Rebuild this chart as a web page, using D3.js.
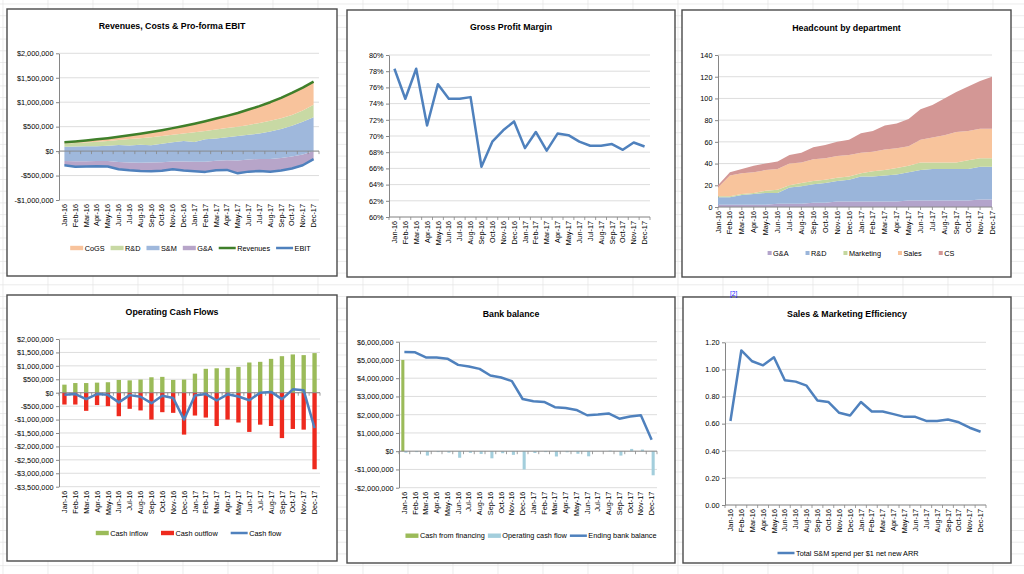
<!DOCTYPE html>
<html>
<head>
<meta charset="utf-8">
<script src="https://cdnjs.cloudflare.com/ajax/libs/d3/7.8.5/d3.min.js"></script>
<style>
  body { margin: 0; background: #fff; }
  svg { display: block; font-family: "Liberation Sans", Arial, sans-serif; }
</style>
</head>
<body>
<svg width="1024" height="574"></svg>
<script>
// ---- data ----
const months = ["Jan-16","Feb-16","Mar-16","Apr-16","May-16","Jun-16","Jul-16","Aug-16","Sep-16","Oct-16","Nov-16","Dec-16",
                "Jan-17","Feb-17","Mar-17","Apr-17","May-17","Jun-17","Jul-17","Aug-17","Sep-17","Oct-17","Nov-17","Dec-17"];

// Revenues, Costs & Pro-forma EBIT
const revenues = [180000,198000,218000,240000,264000,292000,322000,355000,390000,428000,470000,515000,560000,610000,665000,720000,780000,850000,920000,1000000,1090000,1190000,1300000,1420000];
const ebit = [-290000,-320000,-315000,-310000,-315000,-370000,-390000,-405000,-410000,-400000,-370000,-395000,-410000,-425000,-390000,-385000,-455000,-420000,-405000,-420000,-395000,-355000,-290000,-165000];
const gnaCost = [90000,110000,110000,110000,115000,145000,155000,165000,175000,170000,155000,180000,190000,205000,195000,200000,265000,250000,245000,260000,255000,245000,220000,165000];
const snmCost = [290000,305000,305000,300000,310000,350000,350000,370000,355000,380000,395000,420000,405000,460000,455000,470000,500000,505000,520000,560000,590000,630000,670000,690000];
const rndCost = [65000,70000,75000,90000,95000,100000,130000,135000,165000,160000,155000,155000,200000,170000,180000,185000,190000,200000,215000,220000,220000,220000,230000,260000];
const cogsCost = [25000,33000,43000,50000,59000,67000,77000,90000,105000,118000,135000,155000,175000,200000,225000,250000,280000,315000,345000,380000,420000,450000,470000,470000];
const pnlTicks = [-1000000,-500000,0,500000,1000000,1500000,2000000];

// Gross Profit Margin
const grossMargin = [0.783,0.746,0.783,0.713,0.764,0.746,0.746,0.748,0.662,0.693,0.707,0.718,0.685,0.705,0.682,0.703,0.701,0.693,0.688,0.688,0.690,0.683,0.692,0.687];
const marginTicks = [0.60,0.62,0.64,0.66,0.68,0.70,0.72,0.74,0.76,0.78,0.80];

// Headcount by department
const hcGnA = [2,2,2,2,2,3,3,3,4,4,5,5,5,5,5,5,6,6,6,6,6,6,7,7];
const hcRnD = [7,7,9,10,11,10,15,16,17,18,19,20,23,23,24,25,26,28,29,29,29,29,30,30];
const hcMarketing = [1,1,1,1,2,3,2,3,3,3,3,3,3,5,5,6,6,7,6,6,6,8,8,8];
const hcSales = [8,19,19,19,19,19,20,19,20,20,20,20,19,18,19,18,18,21,23,25,28,27,27,27];
const hcCS = [2,3,4,6,6,7,8,9,11,12,13,14,18,19,22,23,25,28,30,34,37,41,44,48];
const hcTicks = [0,20,40,60,80,100,120,140];

// Operating Cash Flows
const cashIn = [300000,360000,360000,375000,390000,475000,460000,490000,575000,590000,475000,490000,710000,890000,910000,925000,960000,1125000,1150000,1260000,1360000,1425000,1400000,1475000];
const cashOut = [-440000,-440000,-675000,-460000,-500000,-875000,-600000,-660000,-1000000,-725000,-750000,-1560000,-850000,-925000,-1240000,-1000000,-1110000,-1460000,-1190000,-1240000,-1690000,-1350000,-1375000,-2850000];
const cashFlow = [-80000,-50000,-240000,-50000,-80000,-360000,-90000,-150000,-390000,-110000,-200000,-1000000,-100000,-50000,-290000,-60000,-140000,-280000,0,30000,-240000,125000,90000,-1320000];
const cashTicks = [-3500000,-3000000,-2500000,-2000000,-1500000,-1000000,-500000,0,500000,1000000,1500000,2000000];

// Bank balance
const financing = [5000000,0,0,0,0,0,0,0,0,0,0,0,0,0,0,0,0,0,0,0,0,0,0,0];
const bankBalance = [5430000,5420000,5140000,5130000,5070000,4730000,4640000,4510000,4150000,4040000,3840000,2860000,2740000,2700000,2410000,2370000,2260000,1970000,2010000,2070000,1780000,1900000,1970000,630000];
const bankTicks = [-2000000,-1000000,0,1000000,2000000,3000000,4000000,5000000,6000000];

// Sales & Marketing Efficiency
const smEfficiency = [0.62,1.14,1.06,1.03,1.09,0.92,0.91,0.88,0.77,0.76,0.68,0.66,0.76,0.69,0.69,0.67,0.65,0.65,0.62,0.62,0.63,0.61,0.57,0.54];
const effTicks = [0,0.2,0.4,0.6,0.8,1.0,1.2];

// ---- drawing ----
const svg = d3.select("svg");
const FONT = 7.3;
const LINE_BLUE = "#4f81bd";
const dollar = v => (v < 0 ? "-$" : "$") + d3.format(",")(Math.abs(v));

// spreadsheet cells behind the charts
const bg = svg.append("g").attr("stroke", "#e4e4e4").attr("stroke-width", 0.7);
for (let y = 4; y < 574; y += 11.7) bg.append("line").attr("x1", 0).attr("x2", 1024).attr("y1", y).attr("y2", y);
for (let x = 3; x < 1024; x += 45) bg.append("line").attr("x1", x).attr("x2", x).attr("y1", 0).attr("y2", 574);

function makePanel(b) {
  const g = svg.append("g");
  g.append("rect").attr("x", b.x).attr("y", b.y).attr("width", b.w).attr("height", b.h)
    .attr("fill", "#fff").attr("stroke", "#4a4a4a").attr("stroke-width", 1.4);
  g.append("text").attr("x", b.x + b.w / 2).attr("y", b.ty).attr("dy", "0.35em")
    .attr("text-anchor", "middle").attr("font-size", 8.8).attr("font-weight", "bold").text(b.title);
  return g;
}

function yAxis(g, x, y, ticks, fmt) {
  const [x0, x1] = x.range();
  g.append("g").selectAll("line").data(ticks).join("line")
    .attr("x1", x0).attr("x2", x1).attr("y1", d => y(d)).attr("y2", d => y(d))
    .attr("stroke", "#d9d9d9").attr("stroke-width", 0.9);
  const ax = g.append("g").attr("transform", `translate(${x0},0)`)
    .call(d3.axisLeft(y).tickValues(ticks).tickFormat(fmt).tickSize(3).tickSizeOuter(0).tickPadding(2.5));
  ax.attr("font-family", null).attr("font-size", null);
  ax.select(".domain").attr("stroke", "#868686");
  ax.selectAll(".tick line").attr("stroke", "#868686");
  ax.selectAll("text").attr("font-size", FONT).attr("fill", "#000");
}

// axis line (at yLine) + month labels under the plot (at yBottom)
function xAxis(g, x, yLine, yBottom) {
  const band = !!x.bandwidth && x.bandwidth() > 0;
  const [x0, x1] = x.range();
  const pos = d => band ? x(d) + x.bandwidth() / 2 : x(d);
  const ticks = band ? months.map(m => x(m)).concat([x1]) : months.map(m => x(m));
  g.append("line").attr("x1", x0).attr("x2", x1).attr("y1", yLine).attr("y2", yLine)
    .attr("stroke", "#868686").attr("stroke-width", 0.9);
  g.append("g").selectAll("line").data(ticks).join("line")
    .attr("x1", d => d).attr("x2", d => d).attr("y1", yLine).attr("y2", yLine + 3)
    .attr("stroke", "#868686").attr("stroke-width", 0.8);
  g.append("g").selectAll("text").data(months).join("text")
    .attr("transform", d => `translate(${pos(d)},${yBottom + 4}) rotate(-90)`)
    .attr("text-anchor", "end").attr("dy", "0.35em").attr("font-size", FONT).text(d => d);
}

function legend(g, items, cx, cy, gap) {
  const lg = g.append("g");
  let pos = 0;
  items.forEach(it => {
    const sw = it.kind === "line" ? 17 : it.kind === "dot" ? 4 : 13;
    if (it.kind === "line")
      lg.append("line").attr("x1", pos).attr("x2", pos + sw).attr("y1", 0).attr("y2", 0)
        .attr("stroke", it.color).attr("stroke-width", 2.5);
    else if (it.kind === "dot")
      lg.append("rect").attr("x", pos).attr("y", -2).attr("width", 4).attr("height", 4).attr("fill", it.color);
    else
      lg.append("rect").attr("x", pos).attr("y", -2.2).attr("width", sw).attr("height", 4.4).attr("fill", it.color);
    const t = lg.append("text").attr("x", pos + sw + 1.5).attr("dy", "0.35em")
      .attr("font-size", FONT).text(it.label);
    pos += sw + 1.5 + t.node().getComputedTextLength() + gap;
  });
  lg.attr("transform", `translate(${cx - (pos - gap) / 2},${cy})`);
}

function drawLine(g, x, y, values, color) {
  const cx = i => x(months[i]) + (x.bandwidth ? x.bandwidth() / 2 : 0);
  g.append("path").datum(values)
    .attr("fill", "none").attr("stroke", color).attr("stroke-width", 2.5).attr("stroke-linejoin", "round")
    .attr("d", d3.line().x((d, i) => cx(i)).y(d => y(d)));
}

// 1. Revenues, Costs & Pro-forma EBIT
{
  const g = makePanel({ x: 7, y: 9, w: 330, h: 267, title: "Revenues, Costs & Pro-forma EBIT", ty: 26 });
  const x = d3.scaleBand().domain(months).range([59, 319]);
  const y = d3.scaleLinear().domain([-1000000, 2000000]).range([200, 53.3]);
  yAxis(g, x, y, pnlTicks, dollar);
  const rows = months.map((m, i) => ({ gna: gnaCost[i], snm: snmCost[i], rnd: rndCost[i], cogs: cogsCost[i] }));
  // costs are stacked upwards from EBIT so that the top edge is revenue
  const series = d3.stack().keys(["gna", "snm", "rnd", "cogs"]).offset((s, order) => {
    d3.stackOffsetNone(s, order);
    s.forEach(layer => layer.forEach((d, i) => { d[0] += ebit[i]; d[1] += ebit[i]; }));
  })(rows);
  const fills = { gna: "#b7a5c9", snm: "#9fb8dc", rnd: "#c8d9a4", cogs: "#f8c39c" };
  const area = d3.area().x((d, i) => x(months[i]) + x.bandwidth() / 2).y0(d => y(d[0])).y1(d => y(d[1]));
  g.append("g").selectAll("path").data(series).join("path").attr("fill", d => fills[d.key]).attr("d", area);
  xAxis(g, x, y(0), 200);
  drawLine(g, x, y, revenues, "#3f7f2a");
  drawLine(g, x, y, ebit, LINE_BLUE);
  legend(g, [
    { label: "CoGS", kind: "rect", color: fills.cogs },
    { label: "R&D", kind: "rect", color: fills.rnd },
    { label: "S&M", kind: "rect", color: fills.snm },
    { label: "G&A", kind: "rect", color: fills.gna },
    { label: "Revenues", kind: "line", color: "#3f7f2a" },
    { label: "EBIT", kind: "line", color: LINE_BLUE }
  ], 190.5, 248, 6);
}

// 2. Gross Profit Margin
{
  const g = makePanel({ x: 347, y: 10, w: 328, h: 267, title: "Gross Profit Margin", ty: 27 });
  const x = d3.scaleBand().domain(months).range([389, 650]);
  const y = d3.scaleLinear().domain([0.6, 0.8]).range([217, 55]);
  yAxis(g, x, y, marginTicks, d3.format(".0%"));
  xAxis(g, x, 217, 217);
  drawLine(g, x, y, grossMargin, LINE_BLUE);
}

// 3. Headcount by department
{
  const g = makePanel({ x: 682, y: 10, w: 329, h: 267, title: "Headcount by department", ty: 28 });
  const x = d3.scalePoint().domain(months).range([718, 992]);
  const y = d3.scaleLinear().domain([0, 140]).range([207, 55]);
  yAxis(g, x, y, hcTicks, d3.format("d"));
  const rows = months.map((m, i) => ({ gna: hcGnA[i], rnd: hcRnD[i], mkt: hcMarketing[i], sales: hcSales[i], cs: hcCS[i] }));
  const series = d3.stack().keys(["gna", "rnd", "mkt", "sales", "cs"])(rows);
  const fills = { gna: "#b3a4cb", rnd: "#9ab5da", mkt: "#c4d79e", sales: "#f8c49c", cs: "#d39795" };
  const area = d3.area().x((d, i) => x(months[i])).y0(d => y(d[0])).y1(d => y(d[1]));
  g.append("g").selectAll("path").data(series).join("path").attr("fill", d => fills[d.key]).attr("d", area);
  xAxis(g, x, 207, 207);
  legend(g, [
    { label: "G&A", kind: "dot", color: fills.gna },
    { label: "R&D", kind: "dot", color: fills.rnd },
    { label: "Marketing", kind: "dot", color: fills.mkt },
    { label: "Sales", kind: "dot", color: fills.sales },
    { label: "CS", kind: "dot", color: fills.cs }
  ], 861, 253, 17);
}

// 4. Operating Cash Flows
{
  const g = makePanel({ x: 7, y: 295, w: 330, h: 266, title: "Operating Cash Flows", ty: 311.7 });
  const x = d3.scaleBand().domain(months).range([59, 320]);
  const y = d3.scaleLinear().domain([-3500000, 2000000]).range([486.7, 339]);
  yAxis(g, x, y, cashTicks, dollar);
  const bw = x.bandwidth() / 2.5;
  const bx = m => x(m) + (x.bandwidth() - bw) / 2;
  g.append("g").selectAll("rect").data(cashIn).join("rect")
    .attr("x", (d, i) => bx(months[i])).attr("width", bw)
    .attr("y", d => y(d)).attr("height", d => y(0) - y(d)).attr("fill", "#9bbb59");
  g.append("g").selectAll("rect").data(cashOut).join("rect")
    .attr("x", (d, i) => bx(months[i])).attr("width", bw)
    .attr("y", y(0)).attr("height", d => y(d) - y(0)).attr("fill", "#ee2a1e");
  xAxis(g, x, y(0), 486.7);
  drawLine(g, x, y, cashFlow, LINE_BLUE);
  legend(g, [
    { label: "Cash inflow", kind: "rect", color: "#9bbb59" },
    { label: "Cash outflow", kind: "rect", color: "#ee2a1e" },
    { label: "Cash flow", kind: "line", color: LINE_BLUE }
  ], 188.5, 533, 13);
}

// 5. Bank balance
{
  const g = makePanel({ x: 347, y: 297, w: 328, h: 266, title: "Bank balance", ty: 314 });
  const x = d3.scaleBand().domain(months).range([399, 657]);
  const y = d3.scaleLinear().domain([-2000000, 6000000]).range([487.7, 341.7]);
  yAxis(g, x, y, bankTicks, dollar);
  const bw = x.bandwidth() / 3.5;
  const mid = m => x(m) + x.bandwidth() / 2;
  const bar = (vals, dx, color) => g.append("g").selectAll("rect").data(vals).join("rect")
    .attr("x", (d, i) => mid(months[i]) + dx).attr("width", bw)
    .attr("y", d => y(Math.max(0, d))).attr("height", d => Math.abs(y(d) - y(0))).attr("fill", color);
  bar(financing, -bw, "#9bbb59");
  bar(cashFlow, 0, "#a3cedc");
  xAxis(g, x, y(0), 487.7);
  drawLine(g, x, y, bankBalance, LINE_BLUE);
  legend(g, [
    { label: "Cash from financing", kind: "rect", color: "#9bbb59" },
    { label: "Operating cash flow", kind: "rect", color: "#a3cedc" },
    { label: "Ending bank balance", kind: "line", color: LINE_BLUE }
  ], 531, 535.7, 3);
}

// 6. Sales & Marketing Efficiency
{
  const g = makePanel({ x: 683, y: 297, w: 328, h: 266, title: "Sales & Marketing Efficiency", ty: 314 });
  const x = d3.scaleBand().domain(months).range([725, 986]);
  const y = d3.scaleLinear().domain([0, 1.2]).range([505, 342.3]);
  yAxis(g, x, y, effTicks, d3.format(".2f"));
  xAxis(g, x, 505, 505);
  drawLine(g, x, y, smEfficiency, LINE_BLUE);
  legend(g, [{ label: "Total S&M spend per $1 net new ARR", kind: "line", color: LINE_BLUE }], 848, 553, 0);
}

// stray cell note above the last chart
svg.append("text").attr("x", 730).attr("y", 296).attr("font-size", 6.5).attr("fill", "#1a1aff").text("[2]");
</script>
</body>
</html>
